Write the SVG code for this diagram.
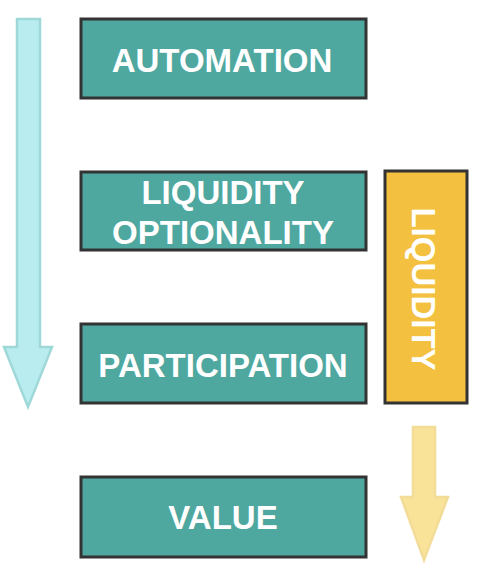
<svg xmlns="http://www.w3.org/2000/svg" width="486" height="574" viewBox="0 0 486 574">
  <style>
    .box { fill: #4fa8a0; stroke: #333333; stroke-width: 3; }
    .ybox { fill: #f3c13f; stroke: #333333; stroke-width: 3; }
    .lbl { font-family: "Liberation Sans", Arial, sans-serif; font-weight: bold; font-size: 33px; fill: #ffffff; text-anchor: middle; }
  </style>
  <rect width="486" height="574" fill="#ffffff"/>
  <g id="connectors">
    <polygon id="arrow-left" points="17,19 40,19 40,347 52,347 28,407 4,347 17,347" fill="#b9ecee" stroke="#9fd8d8" stroke-width="2.5" stroke-linejoin="miter"/>
    <polygon id="arrow-liquidity" points="413,427 435,427 435,497 448,497 424,560 401,497 413,497" fill="#f6dc7e" fill-opacity="0.8" stroke="#f3dc98" stroke-width="2.5"/>
  </g>
  <g id="automation">
    <rect class="box" x="81" y="19" width="285" height="79"/>
    <text class="lbl" x="222" y="71.5">AUTOMATION</text>
  </g>
  <g id="liquidity-optionality">
    <rect class="box" x="81" y="172" width="285" height="78"/>
    <text class="lbl" x="223" y="204">LIQUIDITY</text>
    <text class="lbl" x="223" y="244">OPTIONALITY</text>
  </g>
  <g id="participation">
    <rect class="box" x="81" y="324" width="285" height="79"/>
    <text class="lbl" x="223" y="377">PARTICIPATION</text>
  </g>
  <g id="value">
    <rect class="box" x="81" y="477" width="285" height="80"/>
    <text class="lbl" x="223" y="529">VALUE</text>
  </g>
  <g id="liquidity">
    <rect class="ybox" x="385" y="171" width="82" height="232"/>
    <text class="lbl" transform="translate(412,289) rotate(90)" x="0" y="0">LIQUIDITY</text>
  </g>
</svg>
